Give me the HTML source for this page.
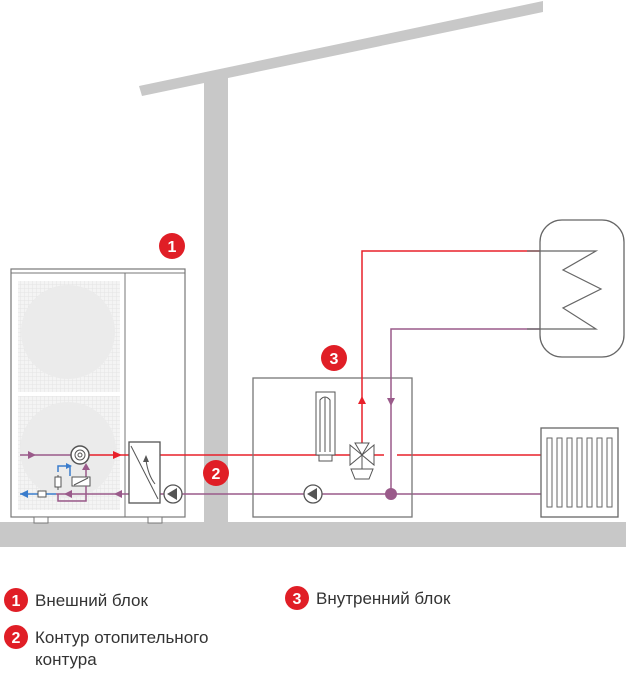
<!DOCTYPE html>
<html><head><meta charset="utf-8"><style>
body{margin:0;background:#fff;width:626px;height:670px;overflow:hidden}
</style></head><body>
<svg width="626" height="670" viewBox="0 0 626 670" xmlns="http://www.w3.org/2000/svg" font-family="Liberation Sans, sans-serif">
<defs>
<pattern id="g" width="4" height="4" patternUnits="userSpaceOnUse"><rect width="4" height="4" fill="#f4f4f4"/><path d="M0 0H4M0 0V4" stroke="#e4e4e4" stroke-width="1"/></pattern>
</defs>
<!-- building -->
<polygon points="139,86 543,1 543,12 142,96" fill="#c8c8c8"/>
<rect x="204" y="76" width="24" height="450" fill="#c8c8c8"/>
<rect x="0" y="522" width="626" height="25" fill="#c8c8c8"/>
<!-- outdoor unit -->
<rect x="11" y="269" width="174" height="248" fill="#fff" stroke="#777" stroke-width="1.2"/>
<line x1="11" y1="273" x2="185" y2="273" stroke="#777"/>
<line x1="125" y1="273" x2="125" y2="517" stroke="#777"/>
<rect x="18" y="281" width="102" height="111" fill="url(#g)"/>
<rect x="18" y="396" width="102" height="114" fill="url(#g)"/>
<circle cx="68" cy="332" r="47" fill="#ebebeb"/>
<circle cx="68" cy="450" r="48" fill="#ebebeb"/>
<rect x="34" y="517" width="14" height="6" fill="#fff" stroke="#777"/>
<rect x="148" y="517" width="14" height="6" fill="#fff" stroke="#777"/>
<!-- pipes -->
<line x1="20" y1="455" x2="72" y2="455" stroke="#9a5a8a" stroke-width="1.5"/>
<polygon points="28,451 36,455 28,459" fill="#9a5a8a"/>
<line x1="88" y1="455" x2="129" y2="455" stroke="#e8202a" stroke-width="1.5"/>
<polygon points="113,451 122,455 113,459" fill="#e8202a"/>
<circle cx="80" cy="455" r="9" fill="#fff" stroke="#555" stroke-width="1.5"/>
<circle cx="80" cy="455" r="5" fill="none" stroke="#555"/>
<circle cx="80" cy="455" r="2" fill="none" stroke="#555"/>
<path d="M86 478V468" stroke="#9a5a8a" stroke-width="1.5"/><polygon points="82,470 86,463 90,470" fill="#9a5a8a"/>
<rect x="72" y="477" width="18" height="9" fill="#fff" stroke="#555"/>
<line x1="74" y1="485" x2="88" y2="478" stroke="#555"/>
<path d="M58 472V466H70V476" fill="none" stroke="#3a7ccc" stroke-width="1.5"/>
<polygon points="66,463 72,466 66,469" fill="#3a7ccc"/>
<path d="M58 475V490" stroke="#555" stroke-width="1"/>
<rect x="55" y="477" width="6" height="10" fill="#fff" stroke="#555"/>
<line x1="20" y1="494" x2="56" y2="494" stroke="#3a7ccc" stroke-width="1.5"/>
<polygon points="28,490 20,494 28,498" fill="#3a7ccc"/>
<rect x="38" y="491" width="8" height="6" fill="#fff" stroke="#555"/>
<path d="M56 494H129M58 494V501H86V486" fill="none" stroke="#9a5a8a" stroke-width="1.5"/>
<polygon points="72,490 64,494 72,498" fill="#9a5a8a"/>
<polygon points="122,490 114,494 122,498" fill="#9a5a8a"/>
<line x1="160" y1="455" x2="384" y2="455" stroke="#e8202a" stroke-width="1.5"/>
<line x1="397" y1="455" x2="541" y2="455" stroke="#e8202a" stroke-width="1.5"/>
<line x1="160" y1="494" x2="541" y2="494" stroke="#9a5a8a" stroke-width="1.5"/>
<!-- heat exchanger -->
<rect x="129" y="442" width="31" height="61" fill="#fff" stroke="#555" stroke-width="1.3"/>
<line x1="131" y1="446" x2="158" y2="499" stroke="#555"/>
<path d="M146 460Q148 475 155 484" fill="none" stroke="#555"/>
<polygon points="143,462 146,455 149,462" fill="#555"/>
<circle cx="173" cy="494" r="9" fill="#fff" stroke="#555" stroke-width="1.3"/>
<polygon points="177,488 167,494 177,500" fill="#555"/>
<!-- indoor -->
<rect x="253" y="378" width="159" height="139" fill="none" stroke="#777" stroke-width="1.3"/>
<path d="M362 455V251H540" fill="none" stroke="#e8202a" stroke-width="1.5"/>
<polygon points="358,404 362,396 366,404" fill="#e8202a"/>
<path d="M391 494V329H540" fill="none" stroke="#9a5a8a" stroke-width="1.5"/>
<polygon points="387,398 391,406 395,398" fill="#9a5a8a"/>
<circle cx="391" cy="494" r="6" fill="#9a5a8a"/>
<circle cx="313" cy="494" r="9" fill="#fff" stroke="#555" stroke-width="1.3"/>
<polygon points="317,488 307,494 317,500" fill="#555"/>
<rect x="316" y="392" width="19" height="63" fill="#fff" stroke="#555"/>
<path d="M320 452V400Q325 394 330 400V452" fill="none" stroke="#555"/>
<line x1="325" y1="397" x2="325" y2="452" stroke="#555"/>
<rect x="319" y="455" width="13" height="6" fill="#fff" stroke="#555"/>
<polygon points="350,445 362,455 350,465" fill="#fff" stroke="#555"/>
<polygon points="374,445 362,455 374,465" fill="#fff" stroke="#555"/>
<polygon points="355,443 369,443 362,455" fill="#fff" stroke="#555"/>
<polygon points="351,469 373,469 369,479 355,479" fill="#fff" stroke="#555"/>
<line x1="362" y1="455" x2="362" y2="469" stroke="#555"/>
<!-- tank -->
<rect x="540" y="220" width="84" height="137" rx="22" fill="none" stroke="#666" stroke-width="1.3"/>
<polyline points="527,251 596,251 563,270 601,289 563,308 596,329 527,329" fill="none" stroke="#666" stroke-width="1.2"/>
<!-- radiator -->
<rect x="541" y="428" width="77" height="89" fill="#fff" stroke="#666" stroke-width="1.3"/>
<g fill="none" stroke="#666">
<rect x="547" y="438" width="5" height="69"/><rect x="557" y="438" width="5" height="69"/><rect x="567" y="438" width="5" height="69"/><rect x="577" y="438" width="5" height="69"/><rect x="587" y="438" width="5" height="69"/><rect x="597" y="438" width="5" height="69"/><rect x="607" y="438" width="5" height="69"/>
</g>
<!-- badges -->
<g font-weight="bold" font-size="16" fill="#fff" text-anchor="middle">
<circle cx="172" cy="246" r="13" fill="#e01e26"/><text x="172" y="252">1</text>
<circle cx="216" cy="473" r="13" fill="#e01e26"/><text x="216" y="479">2</text>
<circle cx="334" cy="358" r="13" fill="#e01e26"/><text x="334" y="364">3</text>
<circle cx="16" cy="600" r="12" fill="#e01e26"/><text x="16" y="606">1</text>
<circle cx="16" cy="637" r="12" fill="#e01e26"/><text x="16" y="643">2</text>
<circle cx="297" cy="598" r="12" fill="#e01e26"/><text x="297" y="604">3</text>
</g>
<g font-size="17" fill="#333">
<text x="35" y="606">Внешний блок</text>
<text x="35" y="643">Контур отопительного</text>
<text x="35" y="665">контура</text>
<text x="316" y="604">Внутренний блок</text>
</g>
</svg>
</body></html>
